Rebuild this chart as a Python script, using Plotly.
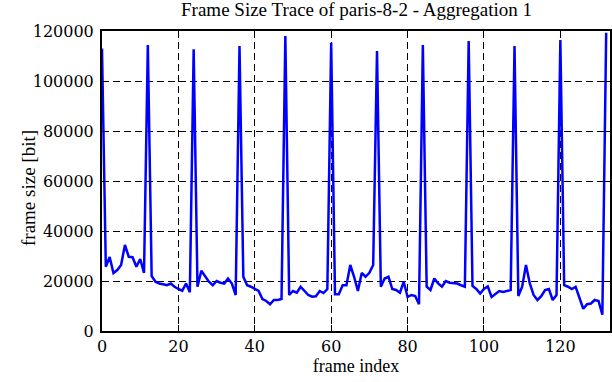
import plotly.graph_objects as go

frame_size = [
    113000, 25700, 29600, 23200, 24400, 26400, 34400, 29700, 29500, 25700,
    28800, 23200, 114400, 22000, 19700, 19000, 18700, 18300, 19000, 17700,
    16800, 16100, 19000, 15500, 112700, 17700, 24100, 21700, 19700, 18300,
    20000, 19300, 19000, 21000, 19000, 14400, 114000, 21700, 18300, 17700,
    16800, 16000, 12800, 12000, 10700, 12400, 12400, 12800, 118000, 14400,
    16000, 15300, 17700, 16000, 14400, 13700, 13900, 16000, 15200, 16800,
    115300, 14700, 14700, 18300, 18300, 26400, 21700, 16000, 23200, 21700,
    23300, 26400, 112000, 17700, 21000, 21700, 16800, 16400, 15300, 19700,
    13600, 14400, 14000, 10700, 114400, 17700, 16400, 21000, 19000, 17700,
    20000, 19300, 19200, 19000, 18300, 17700, 116000, 18000, 16800, 15000,
    16800, 17800, 13600, 14700, 16000, 15600, 16000, 16400, 114000, 14000,
    17700, 26400, 19000, 14400, 12400, 13900, 16400, 16800, 12400, 14400,
    116400, 18300, 17700, 16800, 17700, 13600, 8900, 10700, 11000, 12400,
    12000, 6500, 119300,
]
frame_index = list(range(len(frame_size)))

x_ticks = [0, 20, 40, 60, 80, 100, 120]
y_ticks = [0, 20000, 40000, 60000, 80000, 100000, 120000]

title_text = "Frame Size Trace of paris-8-2 - Aggregation 1"
x_title = "frame index"
y_title = "frame size [bit]"

FONT = "Liberation Serif, Times New Roman, serif"
TICKFONT = "DejaVu Serif, serif"

W, H = 612, 382

fig = go.Figure()
fig.add_trace(go.Scatter(
    x=frame_index, y=frame_size, mode="lines",
    line=dict(color="#0000ff", width=2.5),
    showlegend=False, hoverinfo="skip",
))

axis_common = dict(
    showline=True, linecolor="black", linewidth=2, mirror="ticks",
    ticks="inside", ticklen=6, tickwidth=1, tickcolor="black",
    showgrid=True, gridcolor="black", gridwidth=1, griddash="7px,4px",
    zeroline=False, automargin=False,
    tickfont=dict(family=TICKFONT, size=16, color="black"),
)

fig.update_layout(
    width=W, height=H,
    margin=dict(l=102, r=2, t=31, b=51),
    paper_bgcolor="white", plot_bgcolor="white",
    font=dict(family=FONT, size=18, color="black"),
    title=dict(text=title_text, x=((172 + 541) / 2) / W, xanchor="center",
               y=1 - 9 / H, yref="container", yanchor="middle",
               font=dict(family=FONT, size=19, color="black")),
    xaxis=dict(range=[0, 133], tickvals=x_ticks, ticklabelstandoff=0,
               title=dict(text=x_title, standoff=4,
                          font=dict(family=FONT, size=18)),
               **axis_common),
    yaxis=dict(range=[0, 120000], tickvals=y_ticks, tickformat="d",
               ticklabelstandoff=3, **axis_common),
    annotations=[dict(
        text=y_title, textangle=-90, showarrow=False,
        xref="paper", yref="paper", xanchor="center", yanchor="middle",
        x=(28 - 102) / 508, y=(331 - 188) / 300,
        font=dict(family=FONT, size=19, color="black"),
    )],
)

fig.write_html(
    "out.html",
    config={"displayModeBar": False, "staticPlot": True},
    post_script="document.body.style.margin='0';document.body.style.overflow='hidden';",
)
